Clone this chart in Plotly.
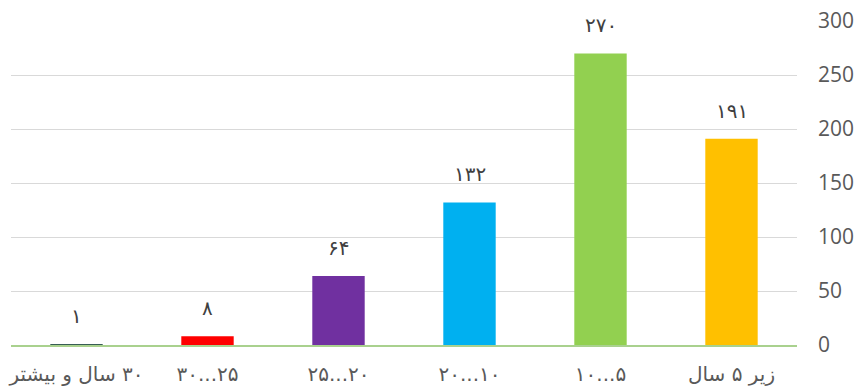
import plotly.graph_objects as go

categories = ["زیر ۵ سال", "۵...۱۰", "۱۰...۲۰", "۲۰...۲۵", "۲۵...۳۰", "۳۰ سال و بیشتر"]
values = [191, 270, 132, 64, 8, 1]
value_labels = ["۱۹۱", "۲۷۰", "۱۳۲", "۶۴", "۸", "۱"]
bar_colors = ["#FFC000", "#92D050", "#00B0F0", "#7030A0", "#FF0000", "#385D55"]
y_ticks = [0, 50, 100, 150, 200, 250, 300]

RLE, PDF = "\u202B", "\u202C"
tick_text = [RLE + c + PDF for c in categories]

fig = go.Figure()
fig.add_trace(go.Bar(
    x=categories, y=values, marker_color=bar_colors, width=0.4,
    marker_line_width=0, hoverinfo="skip",
))

for c, v, t in zip(categories, values, value_labels):
    fig.add_annotation(x=c, y=v, text=t, showarrow=False, yanchor="middle", yshift=28,
                       font=dict(family="DejaVu Sans, Noto Sans", size=20, color="#404040"))

fig.update_layout(
    width=861, height=386,
    margin=dict(l=11, r=64, t=21, b=41, autoexpand=False),
    paper_bgcolor="white", plot_bgcolor="white",
    showlegend=False,
    bargap=0.6,
)
fig.update_xaxes(
    autorange="reversed", showgrid=False, automargin=False,
    tickmode="array", tickvals=categories, ticktext=tick_text,
    showline=True, linecolor="#A9D18E", linewidth=1.5,
    ticks="outside", ticklen=10, tickcolor="rgba(0,0,0,0)",
    tickfont=dict(family="DejaVu Sans, Noto Sans", size=20, color="#595959"),
)
fig.update_yaxes(
    side="right", range=[0, 300], tickvals=y_ticks, automargin=False,
    showgrid=True, gridcolor="#D9D9D9", gridwidth=1,
    zeroline=False, showline=False,
    ticklabelstandoff=20,
    tickfont=dict(family="Open Sans, Noto Sans", size=21, color="#595959"),
)

fig.write_html("out.html", config={"displayModeBar": False, "staticPlot": True},
               post_script="document.body.style.margin='0px';document.body.style.padding='0px';")
